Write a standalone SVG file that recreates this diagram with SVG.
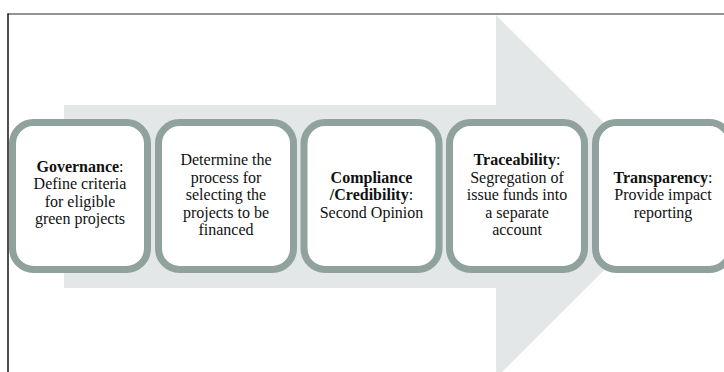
<svg xmlns="http://www.w3.org/2000/svg" width="724" height="372" viewBox="0 0 724 372">
  <style>
    .box { fill: #ffffff; stroke: #90a29e; stroke-width: 7; }
    .lbl { font-family: "Liberation Serif", "Times New Roman", serif; font-size: 16px; fill: #111111; text-anchor: middle; }
    .b { font-weight: bold; }
  </style>
  <rect width="724" height="372" fill="#ffffff"/>
  <!-- outer frame -->
  <g id="frame">
    <line x1="8" y1="14" x2="724" y2="14" stroke="#707070" stroke-width="1.6"/>
    <line x1="8" y1="13.2" x2="8" y2="372" stroke="#222222" stroke-width="1.6"/>
  </g>
  <!-- background block arrow -->
  <g id="connectors">
    <polygon points="64,105 496,105 496,15 678,196.5 496,378 496,288 64,288" fill="#e4e7e7"/>
  </g>
  <g id="governance">
    <rect class="box" x="12.5" y="122.5" width="135" height="147" rx="21"/>
    <text class="lbl" x="80" y="171.5"><tspan class="b">Governance</tspan>:</text>
    <text class="lbl" x="80" y="189">Define criteria</text>
    <text class="lbl" x="80" y="206.5">for eligible</text>
    <text class="lbl" x="80" y="224">green projects</text>
  </g>
  <g id="selection">
    <rect class="box" x="158.5" y="122.5" width="135" height="147" rx="21"/>
    <text class="lbl" x="226" y="165">Determine the</text>
    <text class="lbl" x="226" y="182.5">process for</text>
    <text class="lbl" x="226" y="200">selecting the</text>
    <text class="lbl" x="226" y="217.5">projects to be</text>
    <text class="lbl" x="226" y="235">financed</text>
  </g>
  <g id="compliance">
    <rect class="box" x="304" y="122.5" width="135" height="147" rx="21"/>
    <text class="lbl b" x="371.5" y="182.5">Compliance</text>
    <text class="lbl" x="371.5" y="200"><tspan class="b">/Credibility</tspan>:</text>
    <text class="lbl" x="371.5" y="217.5">Second Opinion</text>
  </g>
  <g id="traceability">
    <rect class="box" x="449.5" y="122.5" width="135" height="147" rx="21"/>
    <text class="lbl" x="517" y="165"><tspan class="b">Traceability</tspan>:</text>
    <text class="lbl" x="517" y="182.5">Segregation of</text>
    <text class="lbl" x="517" y="200">issue funds into</text>
    <text class="lbl" x="517" y="217.5">a separate</text>
    <text class="lbl" x="517" y="235">account</text>
  </g>
  <g id="transparency">
    <rect class="box" x="595.5" y="122.5" width="135" height="147" rx="21"/>
    <text class="lbl" x="663" y="182.5"><tspan class="b">Transparency</tspan>:</text>
    <text class="lbl" x="663" y="200">Provide impact</text>
    <text class="lbl" x="663" y="217.5">reporting</text>
  </g>
</svg>
